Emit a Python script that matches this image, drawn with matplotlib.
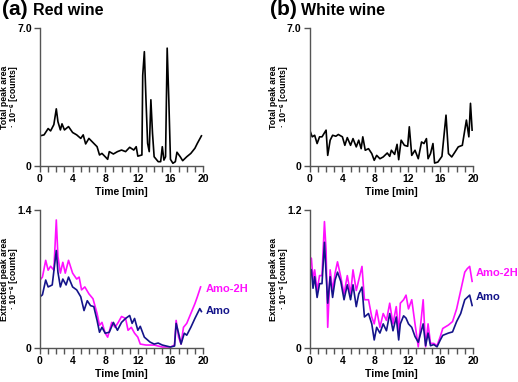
import numpy as np
import matplotlib
matplotlib.use("Agg")
from matplotlib import pyplot as plt
from matplotlib.ticker import MultipleLocator

plt.rcParams['font.family'] = ['Liberation Sans', 'DejaVu Sans']
plt.rcParams['font.weight'] = 'bold'

# Red wine, total peak area (x 10^6 counts)
red_tot_t = [0, 0.5, 1, 1.3, 1.7, 2, 2.2, 2.5, 2.7, 3, 3.5, 4, 4.5, 5, 5.3, 5.6, 6, 6.5,
             7, 7.3, 7.6, 8, 8.3, 8.5, 9, 9.5, 10, 10.5, 11, 11.5, 11.8, 12, 12.5, 12.6,
             12.8, 13, 13.2, 13.4, 13.6, 13.8, 14, 14.5, 14.8, 15, 15.2, 15.4, 15.6, 15.8,
             16, 16.3, 16.6, 16.8, 17.2, 17.5, 18, 18.5, 19, 19.3, 19.8]
red_tot = [1.53, 1.58, 1.9, 1.78, 2.1, 2.9, 2.25, 1.83, 2.14, 1.83, 2.0, 1.7, 1.58, 1.4,
           1.58, 1.12, 1.4, 1.19, 0.98, 0.56, 0.64, 0.47, 0.34, 0.73, 0.61, 0.73, 0.81,
           0.73, 0.95, 0.81, 0.98, 0.5, 0.56, 4.6, 5.8, 3.36, 1.15, 0.73, 3.36, 1.66, 0.47,
           0.22, 0.22, 0.98, 0.3, 0.47, 5.98, 3.36, 0.34, 0.14, 0.22, 0.7, 0.47, 0.27, 0.47,
           0.64, 0.9, 1.15, 1.53]

# White wine, total peak area
white_tot_t = [0, 0.3, 0.6, 0.9, 1.2, 1.5, 2, 2.2, 2.5, 2.8, 3.2, 3.5, 4, 4.3, 4.6, 5, 5.3,
               5.7, 6, 6.3, 6.5, 6.8, 7.2, 7.6, 7.9, 8.2, 8.6, 9, 9.5, 9.8, 10, 10.4, 10.7,
               10.9, 11.2, 11.6, 12, 12.2, 12.5, 12.9, 13.3, 13.7, 14, 14.3, 14.5, 14.8,
               15.1, 15.3, 15.7, 16.2, 16.7, 17, 17.4, 17.8, 18.2, 18.7, 19.2, 19.5, 19.7,
               19.9]
white_tot = [1.82, 1.48, 1.56, 1.14, 1.48, 1.48, 1.82, 0.54, 1.31, 1.56, 1.51, 1.6, 1.48,
             1.05, 1.44, 1.05, 1.39, 0.97, 1.31, 0.88, 1.48, 0.8, 0.88, 0.63, 0.29, 0.54,
             0.37, 0.46, 0.66, 0.49, 0.8, 0.59, 1.1, 0.32, 1.31, 1.05, 1.0, 1.99, 0.54, 0.8,
             0.37, 1.22, 1.14, 1.39, 0.37, 0.63, 1.14, 0.15, 0.2, 0.49, 2.58, 0.63, 0.46,
             0.71, 0.97, 1.05, 2.33, 1.48, 3.18, 1.82]

# Red wine, extracted peak areas
red_2h_t = [0, 0.3, 0.7, 1, 1.3, 1.7, 2, 2.2, 2.5, 2.8, 3.1, 3.5, 4, 4.5, 4.8, 5.1, 5.5, 6,
            6.5, 7, 7.3, 7.6, 8, 8.3, 8.8, 9.2, 9.6, 10, 10.5, 10.8, 11.2, 11.6, 12, 12.3,
            13, 14, 15, 16, 16.5, 16.7, 17, 17.3, 17.6, 18, 18.5, 19, 19.3, 19.7]
red_2h = [0.69, 0.72, 0.89, 0.79, 0.83, 0.79, 1.3, 0.93, 0.76, 0.87, 0.76, 0.89, 0.76, 0.7,
          0.72, 0.59, 0.62, 0.55, 0.5, 0.35, 0.23, 0.26, 0.15, 0.11, 0.26, 0.21, 0.26, 0.32,
          0.3, 0.18, 0.21, 0.15, 0.11, 0.04, 0.03, 0.03, 0.01, 0.01, 0.03, 0.28, 0.11, 0.04,
          0.21, 0.25, 0.35, 0.45, 0.52, 0.62]
red_amo_t = [0, 0.3, 0.7, 1, 1.5, 2, 2.2, 2.5, 2.8, 3.2, 3.5, 4, 4.5, 5, 5.4, 5.8, 6.2, 6.6,
             7, 7.3, 7.6, 8, 8.5, 9, 9.5, 10, 10.5, 11, 11.3, 11.6, 12, 12.3, 12.8, 13.5, 14,
             14.5, 15, 16, 16.5, 16.7, 17, 17.3, 17.7, 18, 18.5, 19, 19.3, 19.6, 19.8]
red_amo = [0.52, 0.54, 0.69, 0.62, 0.64, 0.99, 0.77, 0.62, 0.7, 0.64, 0.72, 0.62, 0.59,
           0.52, 0.38, 0.48, 0.43, 0.42, 0.28, 0.16, 0.21, 0.15, 0.16, 0.26, 0.18, 0.26,
           0.3, 0.33, 0.25, 0.3, 0.18, 0.22, 0.11, 0.06, 0.04, 0.05, 0.03, 0.01, 0.02, 0.25,
           0.15, 0.04, 0.15, 0.13, 0.21, 0.3, 0.35, 0.4, 0.37]

# White wine, extracted peak areas (same time grid for both ions)
white_ext_t = [0, 0.2, 0.4, 0.6, 0.9, 1.2, 1.5, 1.8, 2, 2.2, 2.5, 2.8, 3.1, 3.4, 3.8, 4.2,
               4.6, 5, 5.3, 5.7, 6, 6.4, 6.7, 7.2, 7.6, 7.9, 8.2, 8.6, 9, 9.4, 9.8, 10.2,
               10.6, 10.9, 11.1, 11.5, 11.8, 12.1, 12.5, 12.9, 13.3, 13.6, 13.9, 14.2, 14.5,
               14.8, 15.2, 15.6, 16, 16.3, 17, 17.5, 18, 18.5, 19, 19.3, 19.6, 19.9]
white_2h = [0.79, 0.78, 0.59, 0.68, 0.5, 0.63, 0.63, 1.1, 0.85, 0.18, 0.68, 0.5, 0.65, 0.75,
            0.62, 0.47, 0.63, 0.47, 0.68, 0.5, 0.59, 0.71, 0.42, 0.42, 0.27, 0.21, 0.33,
            0.18, 0.3, 0.24, 0.39, 0.21, 0.36, 0.13, 0.39, 0.42, 0.46, 0.34, 0.42, 0.21,
            0.01, 0.21, 0.42, 0.01, 0.21, 0.04, 0.04, 0.02, 0.1, 0.17, 0.2, 0.23, 0.34, 0.5,
            0.66, 0.69, 0.71, 0.58]
white_amo = [0.69, 0.68, 0.52, 0.62, 0.44, 0.56, 0.56, 0.92, 0.65, 0.39, 0.62, 0.44, 0.59,
             0.66, 0.58, 0.42, 0.55, 0.42, 0.55, 0.36, 0.47, 0.53, 0.27, 0.3, 0.21, 0.07,
             0.18, 0.13, 0.21, 0.15, 0.3, 0.15, 0.27, 0.07, 0.21, 0.28, 0.26, 0.21, 0.18,
             0.1, 0.05, 0.13, 0.21, 0.02, 0.13, 0.02, 0.03, 0.01, 0.07, 0.11, 0.13, 0.14,
             0.23, 0.3, 0.42, 0.44, 0.46, 0.37]

MAGENTA = "#ff10ff"
NAVY = "#14148a"
GREY = "#555555"


def style_axis(ax, ymax, ylabel):
    ax.set_xlim(0, 20)
    ax.set_ylim(0, ymax)
    ax.spines['top'].set_visible(False)
    ax.spines['right'].set_visible(False)
    for s in ('left', 'bottom'):
        ax.spines[s].set_color(GREY)
        ax.spines[s].set_linewidth(1.0)
    ax.set_xticks([0, 4, 8, 12, 16, 20])
    ax.xaxis.set_minor_locator(MultipleLocator(1))
    ax.set_yticks([0, ymax])
    ax.set_yticklabels(["0", "%.1f" % ymax])
    ax.tick_params(which='both', direction='out', color=GREY, width=1.0,
                   labelsize=7.5, pad=2)
    ax.tick_params(which='major', length=4)
    ax.tick_params(which='minor', length=4)
    ax.set_xlabel("Time [min]", fontsize=7.5, fontweight='bold', labelpad=2)
    ax.set_ylabel(ylabel, fontsize=6.3, fontweight='bold', linespacing=1.05)
    ax.yaxis.set_label_coords(-0.135, 0.5)


fig = plt.figure(figsize=(5.18, 3.82), dpi=100)
ax_a1 = fig.add_axes([0.0772, 0.5654, 0.3148, 0.3613])
ax_b1 = fig.add_axes([0.598, 0.5654, 0.315, 0.3613])
ax_a2 = fig.add_axes([0.0772, 0.089, 0.3148, 0.361])
ax_b2 = fig.add_axes([0.598, 0.089, 0.315, 0.361])

tot_label = "Total peak area\n\u00b7 10\u207b\u2076 [counts]"
ext_label = "Extracted peak area\n\u00b7 10\u207b\u2076 [counts]"

ax_a1.plot(red_tot_t, red_tot, color='black', lw=1.2)
style_axis(ax_a1, 7.0, tot_label)
ax_b1.plot(white_tot_t, white_tot, color='black', lw=1.2)
style_axis(ax_b1, 7.0, tot_label)

ax_a2.plot(red_2h_t, red_2h, color=MAGENTA, lw=1.2)
ax_a2.plot(red_amo_t, red_amo, color=NAVY, lw=1.2)
style_axis(ax_a2, 1.4, ext_label)
ax_a2.text(20.3, 0.6, "Amo-2H", color=MAGENTA, fontsize=8, fontweight='bold',
           va='center', ha='left', clip_on=False)
ax_a2.text(20.3, 0.38, "Amo", color=NAVY, fontsize=8, fontweight='bold',
           va='center', ha='left', clip_on=False)

ax_b2.plot(white_ext_t, white_2h, color=MAGENTA, lw=1.2)
ax_b2.plot(white_ext_t, white_amo, color=NAVY, lw=1.2)
style_axis(ax_b2, 1.2, ext_label)
ax_b2.text(20.3, 0.65, "Amo-2H", color=MAGENTA, fontsize=8, fontweight='bold',
           va='center', ha='left', clip_on=False)
ax_b2.text(20.3, 0.44, "Amo", color=NAVY, fontsize=8, fontweight='bold',
           va='center', ha='left', clip_on=False)

fig.text(0.004, 0.975, "(a)", fontsize=15, fontweight='bold', va='center', ha='left')
fig.text(0.064, 0.973, "Red wine", fontsize=11.5, fontweight='bold', va='center', ha='left')
fig.text(0.522, 0.975, "(b)", fontsize=15, fontweight='bold', va='center', ha='left')
fig.text(0.582, 0.973, "White wine", fontsize=11.5, fontweight='bold', va='center', ha='left')

plt.savefig("out.png", dpi=100)
plt.close()
